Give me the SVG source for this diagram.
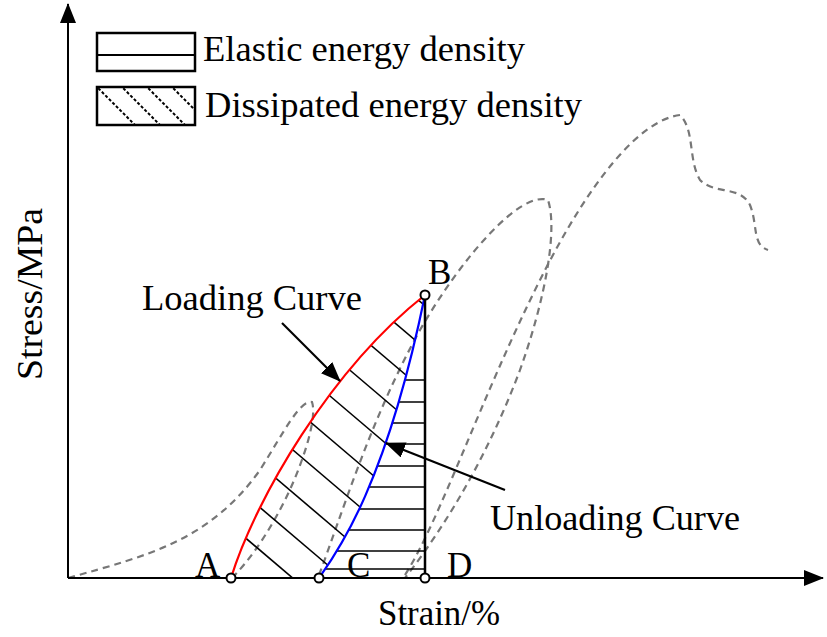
<svg xmlns="http://www.w3.org/2000/svg" width="827" height="637" viewBox="0 0 827 637">
<style>
text{font-family:"Liberation Serif","Times New Roman",serif;font-size:35px;fill:#000}
.d{fill:none;stroke:#777;stroke-width:2.2;stroke-dasharray:7,5}
.h{stroke:#000;stroke-width:1.6}
.pt{fill:#fff;stroke:#000;stroke-width:2}
</style>
<defs>
<marker id="big" markerWidth="20" markerHeight="16" refX="19" refY="8" orient="auto" markerUnits="userSpaceOnUse"><path d="M0,0L20,8L0,16z" fill="#000"/></marker>
<clipPath id="c1"><path d="M231,578 C255,500 330,370 425,295 C385,490 335,555 319,578Z"/></clipPath>
<clipPath id="c2"><path d="M319,578 C335,555 385,490 425,295 L425,578Z"/></clipPath>
<clipPath id="c3"><rect x="97" y="87" width="98" height="38"/></clipPath>
</defs>
<g id="dashed">
<path class="d" d="M68,578 C150,555 210,540 260,470 C285,430 300,400 312,402 C318,420 300,470 285,500 C265,540 245,565 232,578"/>
<path class="d" d="M319,575 C340,520 370,420 420,330 C460,260 520,190 548,200 C558,230 545,300 520,370 C490,450 450,520 405,578"/>
<path class="d" d="M405,575 C440,520 480,400 540,280 C590,180 640,120 680,115 C695,130 688,160 700,180 C715,195 740,185 750,205 C758,225 752,245 768,250"/>
</g>
<g id="hatch">
<g clip-path="url(#c2)">
<line class="h" x1="300" y1="380" x2="426" y2="380"/><line class="h" x1="300" y1="402" x2="426" y2="402"/>
<line class="h" x1="300" y1="423" x2="426" y2="423"/><line class="h" x1="300" y1="444" x2="426" y2="444"/>
<line class="h" x1="300" y1="466" x2="426" y2="466"/><line class="h" x1="300" y1="487" x2="426" y2="487"/>
<line class="h" x1="300" y1="509" x2="426" y2="509"/><line class="h" x1="300" y1="530" x2="426" y2="530"/>
<line class="h" x1="300" y1="551" x2="426" y2="551"/><line class="h" x1="300" y1="569" x2="426" y2="569"/>
</g>
<g clip-path="url(#c1)">
<line class="h" x1="195" y1="495" x2="295" y2="580"/><line class="h" x1="210" y1="465" x2="330" y2="567"/>
<line class="h" x1="225" y1="435" x2="345" y2="537"/><line class="h" x1="240" y1="405" x2="360" y2="507"/>
<line class="h" x1="255" y1="375" x2="375" y2="477"/><line class="h" x1="270" y1="345" x2="390" y2="447"/>
<line class="h" x1="285" y1="315" x2="405" y2="417"/><line class="h" x1="300" y1="285" x2="420" y2="387"/>
<line class="h" x1="315" y1="255" x2="435" y2="357"/><line class="h" x1="330" y1="225" x2="450" y2="327"/>
</g>
</g>
<g id="curves">
<path d="M231,578 C255,500 330,370 425,295" fill="none" stroke="#f00" stroke-width="2.2"/>
<path d="M319,578 C335,555 385,490 425,295" fill="none" stroke="#00f" stroke-width="2.2"/>
<line x1="425" y1="295" x2="425" y2="578" stroke="#000" stroke-width="2.5"/>
</g>
<g id="axes" stroke="#000" stroke-width="2">
<line x1="68" y1="578" x2="68" y2="4" marker-end="url(#big)"/>
<line x1="68" y1="578" x2="823" y2="578" marker-end="url(#big)"/>
</g>
<g id="connectors" stroke="#000" stroke-width="2.2">
<line x1="282" y1="323" x2="340" y2="381" marker-end="url(#big)"/>
<line x1="505" y1="490" x2="386" y2="443" marker-end="url(#big)"/>
</g>
<g id="points">
<circle class="pt" cx="231" cy="578" r="4.5"/><circle class="pt" cx="319" cy="578" r="4.5"/>
<circle class="pt" cx="425" cy="578" r="4.5"/><circle class="pt" cx="425" cy="295" r="4.5"/>
</g>
<g id="legend">
<rect x="97" y="33" width="98" height="38" fill="none" stroke="#000" stroke-width="2.5"/>
<line x1="97" y1="55" x2="195" y2="55" stroke="#000" stroke-width="2"/>
<g clip-path="url(#c3)" stroke="#000" stroke-width="2" stroke-dasharray="3,2">
<line x1="70" y1="60" x2="140" y2="130"/><line x1="95" y1="60" x2="165" y2="130"/>
<line x1="120" y1="60" x2="190" y2="130"/><line x1="145" y1="60" x2="215" y2="130"/>
<line x1="170" y1="60" x2="240" y2="130"/>
</g>
<rect x="97" y="87" width="98" height="38" fill="none" stroke="#000" stroke-width="2.5"/>
<text x="203" y="61" textLength="322" lengthAdjust="spacingAndGlyphs">Elastic energy density</text>
<text x="205" y="117" textLength="377" lengthAdjust="spacingAndGlyphs">Dissipated energy density</text>
</g>
<g id="labels">
<text x="142" y="310" textLength="220" lengthAdjust="spacingAndGlyphs">Loading Curve</text>
<text x="490" y="530" textLength="250" lengthAdjust="spacingAndGlyphs">Unloading Curve</text>
<text x="428" y="284">B</text>
<text x="195" y="577">A</text>
<text x="347" y="577">C</text>
<text x="447" y="577">D</text>
<text x="378" y="625" textLength="122" lengthAdjust="spacingAndGlyphs">Strain/%</text>
<text transform="translate(42,294) rotate(-90)" text-anchor="middle" textLength="172" lengthAdjust="spacingAndGlyphs">Stress/MPa</text>
</g>
</svg>
